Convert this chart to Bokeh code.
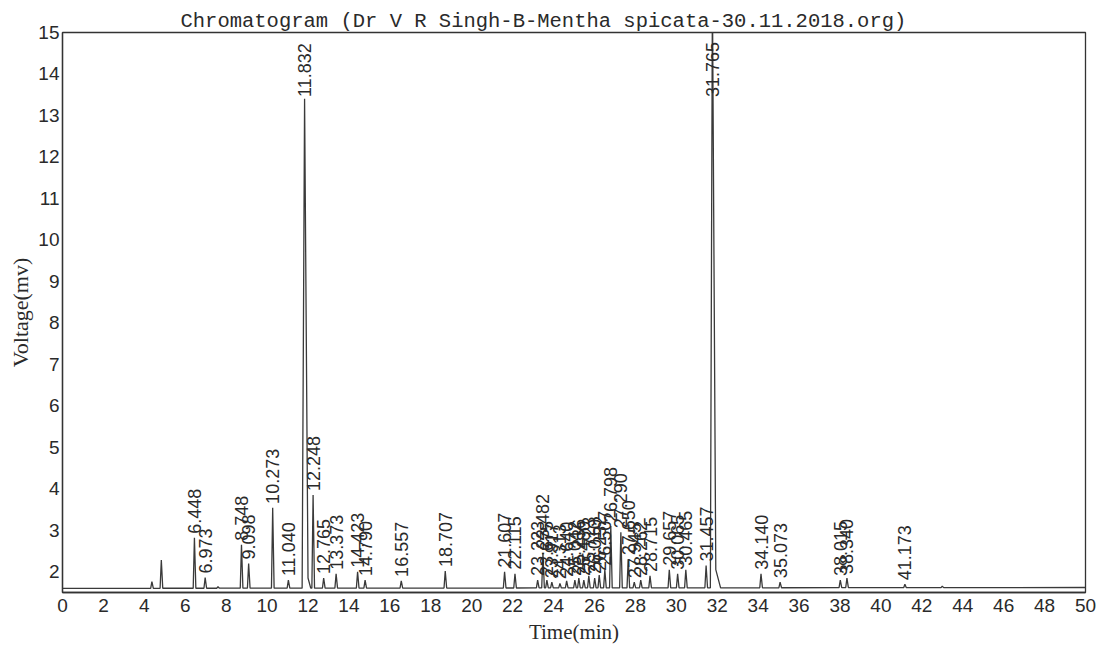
import numpy as np
from math import pi
from bokeh.plotting import figure
from bokeh.models import ColumnDataSource, Range1d, FixedTicker
from bokeh.core.properties import value
from bokeh.embed import file_html
from bokeh.resources import INLINE

# ---------------- data ----------------
title_text = "Chromatogram (Dr V R Singh-B-Mentha spicata-30.11.2018.org)"
x_label = "Time(min)"
y_label = "Voltage(mv)"
x_ticks = list(range(0, 51, 2))
y_ticks = list(range(2, 16))

# labelled peaks: retention time (min) and apex voltage (mV)
peak_rt = [6.448, 6.973, 8.748, 9.098, 10.273, 11.040, 11.832, 12.248, 12.765,
           13.373, 14.423, 14.790, 16.557, 18.707, 21.607, 22.115, 23.223,
           23.482, 23.675, 23.917, 24.313, 24.640, 25.042, 25.236, 25.480,
           25.723, 26.010, 26.232, 26.507, 26.798, 27.290, 27.650, 27.945,
           28.262, 28.715, 29.657, 30.065, 30.465, 31.457, 31.765, 34.140,
           35.073, 38.015, 38.340, 41.173]
peak_height = [2.82, 1.86, 2.65, 2.20, 3.54, 1.80, 13.40, 3.85, 1.85,
               1.95, 2.00, 1.80, 1.78, 2.02, 2.00, 1.95, 1.80,
               2.45, 1.80, 1.75, 1.72, 1.78, 1.80, 1.85, 1.80,
               1.90, 1.85, 1.92, 2.05, 3.10, 2.95, 2.30, 1.75,
               1.80, 1.90, 2.05, 1.95, 2.05, 2.15, 16.00, 1.95,
               1.75, 1.80, 1.85, 1.70]
peak_label = ["%.3f" % t for t in peak_rt]

# small unlabelled peaks
minor_rt = [4.37, 4.83, 7.60, 43.00]
minor_height = [1.76, 2.28, 1.64, 1.65]

# tailing points after the two main peaks
tail_rt = {11.832: 12.00, 31.765: 31.93}
tail_level = {11.832: 1.85, 31.765: 2.05}

# baseline drift
baseline_time = [0, 50]
baseline_level = [1.60, 1.62]

# ---------------- build trace from the read peaks ----------------
def base_at(t):
    return float(np.interp(t, baseline_time, baseline_level))

wide = {11.832: (0.12, 0.30), 31.765: (0.10, 0.40)}
all_peaks = sorted(zip(peak_rt + minor_rt, peak_height + minor_height))
tx = [0.0]
ty = [base_at(0.0)]
for rt, h in all_peaks:
    wl, wr = wide.get(rt, (0.06, 0.07))
    tx += [rt - wl, rt]
    ty += [base_at(rt - wl), h]
    if rt in tail_rt:
        tx.append(tail_rt[rt])
        ty.append(tail_level[rt])
    tx.append(rt + wr)
    ty.append(base_at(rt + wr))
tx.append(50.0)
ty.append(base_at(50.0))

y_lo, y_hi = 1.5, 15.0
label_cap = 13.35
label_y = [min(h, label_cap) for h in peak_height]

trace = ColumnDataSource(dict(t=tx, v=ty))
labels = ColumnDataSource(dict(rt=peak_rt, ly=label_y, label=peak_label))

# ---------------- figure ----------------
p = figure(width=1096, height=646,
           x_range=Range1d(0, 50), y_range=Range1d(y_lo, y_hi),
           output_backend="svg", toolbar_location=None,
           min_border_left=62, min_border_right=11,
           min_border_top=32, min_border_bottom=54)

p.title.text = title_text
p.title.text_font = "Liberation Mono"
p.title.text_font_size = "20.5px"
p.title.text_font_style = "normal"
p.title.text_color = "#2a2a2a"
p.title.align = "left"
p.title.offset = 118
p.title.standoff = 0

p.line("t", "v", source=trace, line_color="#3a3a3a", line_width=1.3)

p.text("rt", "ly", text="label", source=labels, angle=pi / 2,
       text_align="left", text_baseline="middle", y_offset=-4,
       text_font=value("Liberation Sans"), text_font_size="18px",
       text_color="#2a2a2a")

p.xgrid.visible = False
p.ygrid.visible = False
p.outline_line_color = "#333333"
p.outline_line_width = 1.3

for ax in (p.xaxis[0], p.yaxis[0]):
    ax.axis_line_color = "#333333"
    ax.axis_line_width = 1.3
    ax.major_tick_line_color = None
    ax.minor_tick_line_color = None
    ax.major_tick_out = 0
    ax.major_tick_in = 0
    ax.major_label_text_font = "Liberation Sans"
    ax.major_label_text_font_size = "19px"
    ax.major_label_text_color = "#2a2a2a"
    ax.axis_label_text_font = "Liberation Serif"
    ax.axis_label_text_font_style = "normal"
    ax.axis_label_text_color = "#2a2a2a"

p.xaxis.ticker = FixedTicker(ticks=x_ticks)
p.yaxis.ticker = FixedTicker(ticks=y_ticks)
p.xaxis.axis_label = x_label
p.yaxis.axis_label = y_label
p.xaxis.axis_label_text_font_size = "21px"
p.yaxis.axis_label_text_font_size = "22px"
p.xaxis.major_label_standoff = 6
p.xaxis.axis_label_standoff = 5
p.yaxis.major_label_standoff = 3
p.yaxis.axis_label_standoff = 2

open("out.html", "w").write(file_html(p, INLINE))
